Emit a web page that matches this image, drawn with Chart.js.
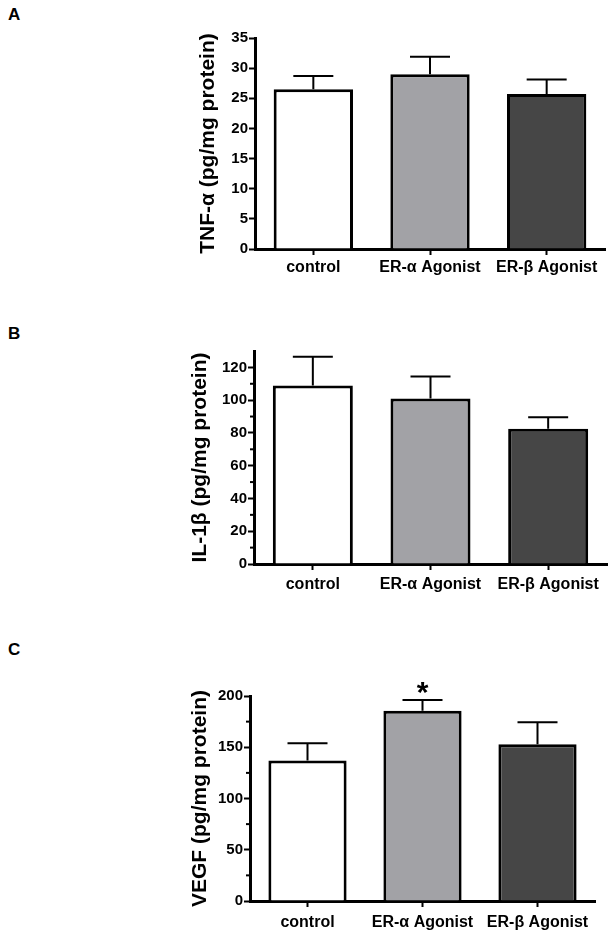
<!DOCTYPE html>
<html>
<head>
<meta charset="utf-8">
<script src="https://cdn.jsdelivr.net/npm/chart.js@4.4.1/dist/chart.umd.min.js"></script>
<style>
  html, body { margin: 0; padding: 0; background: #ffffff; }
  body { width: 615px; height: 937px; position: relative; overflow: hidden; }
  .panel { position: absolute; left: 0; width: 615px; }
  .letter { position: absolute; left: 8px; font: bold 17px "Liberation Sans", Arial, sans-serif; color: #000; }
</style>
</head>
<body>
<div class="letter" style="top:5px">A</div>
<div class="letter" style="top:324px">B</div>
<div class="letter" style="top:640px">C</div>
<div class="panel" style="top:0px;height:300px"><canvas id="cA"></canvas></div>
<div class="panel" style="top:300px;height:320px"><canvas id="cB"></canvas></div>
<div class="panel" style="top:620px;height:317px"><canvas id="cC"></canvas></div>
<script>
// ---- data ----
const categories = ['control', 'ER-\u03b1 Agonist', 'ER-\u03b2 Agonist'];
const tnfMean = [26.5, 29.0, 25.7];
const tnfSem  = [2.2, 2.9, 2.4];
const il1Mean = [109, 101, 82.5];
const il1Sem  = [17.5, 13.5, 7];
const vegfMean = [137, 185.5, 153];
const vegfSem  = [17, 10.5, 21.5];
const barColors = ['#ffffff', '#a2a2a6', '#464646'];
const tnfTicks = [0, 5, 10, 15, 20, 25, 30, 35];
const il1Ticks = [0, 20, 40, 60, 80, 100, 120];
const il1Minor = [10, 30, 50, 70, 90, 110];
const vegfTicks = [0, 50, 100, 150, 200];
const vegfMinor = [25, 75, 125, 175];

const FONT = '"Liberation Sans", Arial, sans-serif';

const errorBarPlugin = {
  id: 'errorBars',
  afterDatasetsDraw(chart, args, opts) {
    const ctx = chart.ctx;
    const meta = chart.getDatasetMeta(0);
    const ys = chart.scales.y;
    ctx.save();
    ctx.strokeStyle = '#000';
    ctx.lineWidth = 2;
    meta.data.forEach((bar, i) => {
      const top = ys.getPixelForValue(opts.mean[i] + opts.sem[i]);
      ctx.beginPath();
      ctx.moveTo(bar.x, bar.y);
      ctx.lineTo(bar.x, top);
      ctx.moveTo(bar.x - 20, top);
      ctx.lineTo(bar.x + 20, top);
      ctx.stroke();
      if (opts.sig && opts.sig.includes(i)) {
        ctx.fillStyle = '#000';
        ctx.font = 'bold 30px ' + FONT;
        ctx.textAlign = 'center';
        ctx.textBaseline = 'alphabetic';
        ctx.fillText('*', bar.x, top + 2);
      }
    });
    // minor ticks on y axis
    if (opts.minor) {
      const x = chart.chartArea.left;
      ctx.lineWidth = 2;
      opts.minor.forEach(v => {
        const y = ys.getPixelForValue(v);
        ctx.beginPath();
        ctx.moveTo(x - 4, y);
        ctx.lineTo(x, y);
        ctx.stroke();
      });
    }
    ctx.restore();
  }
};

function makeChart(id, mean, sem, tickVals, minor, max, title, cfg) {
  return new Chart(document.getElementById(id), {
    type: 'bar',
    data: {
      labels: categories,
      datasets: [{
        data: mean,
        backgroundColor: barColors,
        borderColor: '#000',
        borderWidth: 3,
        borderSkipped: 'start',
        categoryPercentage: 1.0,
        barPercentage: 0.68
      }]
    },
    options: {
      responsive: true,
      maintainAspectRatio: false,
      animation: false,
      events: [],
      layout: { padding: { top: cfg.top, right: cfg.right, bottom: cfg.bottom, left: cfg.left } },
      plugins: {
        legend: { display: false },
        tooltip: { enabled: false },
        errorBars: { mean: mean, sem: sem, minor: minor, sig: cfg.sig || [] }
      },
      scales: {
        x: {
          afterFit: s => { s.height = cfg.xh; },
          border: { display: true, color: '#000', width: 3 },
          grid: { display: true, drawOnChartArea: false, drawTicks: true, offset: false,
                  tickLength: 6, tickWidth: 2, tickColor: '#000' },
          ticks: { color: '#000', font: { family: FONT, size: 16, weight: 'bold' }, padding: cfg.xpad,
                   maxRotation: 0, autoSkip: false }
        },
        y: {
          min: 0, max: max,
          afterFit: s => { s.width = cfg.yw; },
          afterBuildTicks: s => { s.ticks = tickVals.map(v => ({ value: v })); },
          border: { display: true, color: '#000', width: 3 },
          grid: { display: true, drawOnChartArea: false, drawTicks: true,
                  tickLength: 6, tickWidth: 2, tickColor: '#000' },
          ticks: { color: '#000', font: { family: FONT, size: 15, weight: 'bold' }, padding: 1 },
          title: { display: true, text: title, color: '#000',
                   font: { family: FONT, size: 21, weight: 'bold' }, padding: { top: cfg.tpad, bottom: 0 } }
        }
      }
    },
    plugins: [errorBarPlugin]
  });
}

makeChart('cA', tnfMean, tnfSem, tnfTicks, null, 35, 'TNF-\u03b1 (pg/mg protein)',
  { top: 38, right: 10, bottom: 16, left: 190, xh: 35, yw: 65, tpad: 6, xpad: 3 });
makeChart('cB', il1Mean, il1Sem, il1Ticks, il1Minor, 130, 'IL-1\u03b2 (pg/mg protein)',
  { top: 51, right: 8, bottom: 21, left: 182, xh: 35, yw: 72, tpad: 6, xpad: 5 });
makeChart('cC', vegfMean, vegfSem, vegfTicks, vegfMinor, 200, 'VEGF (pg/mg protein)',
  { top: 76, right: 20, bottom: 4, left: 182, xh: 32, yw: 68, tpad: 6, xpad: 6, sig: [1] });
</script>
</body>
</html>
